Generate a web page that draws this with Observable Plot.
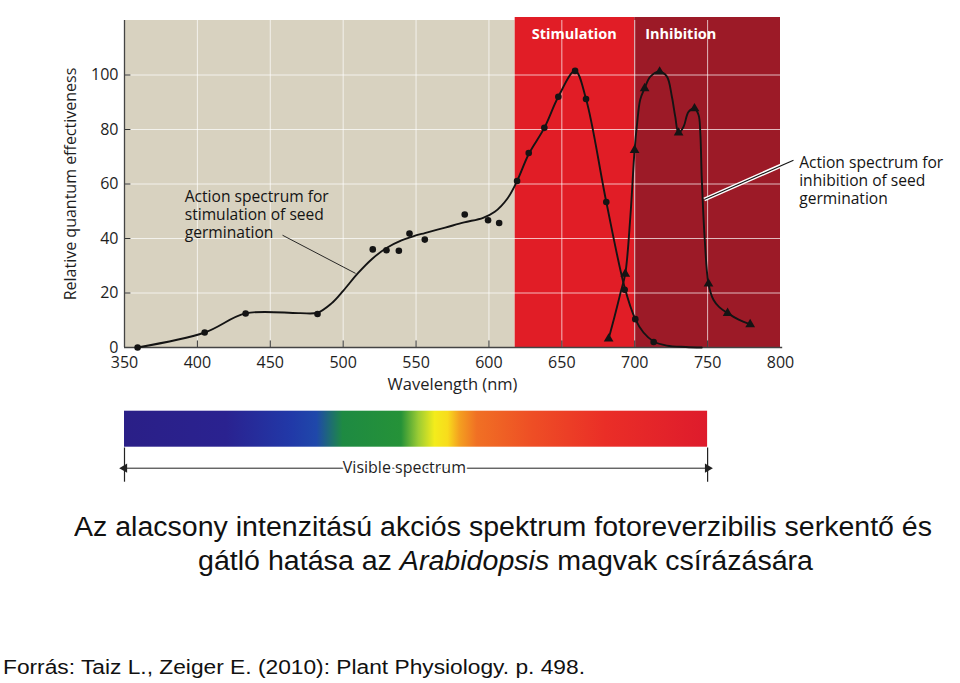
<!DOCTYPE html>
<html>
<head>
<meta charset="utf-8">
<script src="https://cdn.jsdelivr.net/npm/d3@7"></script>
<script src="https://cdn.jsdelivr.net/npm/@observablehq/plot@0.6"></script>
<style>
html, body { margin: 0; padding: 0; background: #fff; }
#page { position: relative; width: 960px; height: 683px; overflow: hidden; background: #fff; }
#chart { position: absolute; left: 0; top: 0; }
#strip { position: absolute; left: 0; top: 400px; }
.tline { position: absolute; white-space: nowrap; font-family: "Liberation Sans", Arial, sans-serif; color: #111; transform-origin: 0 0; line-height: 1; }
</style>
</head>
<body>
<div id="page">
  <div id="chart"></div>
  <div id="strip"></div>
  <div class="tline" id="t1" data-left="74" data-w="858" style="top:513.6px;font-size:27px;">Az alacsony intenzitású akciós spektrum fotoreverzibilis serkentő és</div>
  <div class="tline" id="t2" data-left="198" data-w="615" style="top:548.3px;font-size:27px;">gátló hatása az <i>Arabidopsis</i> magvak csírázására</div>
  <div class="tline" id="src" data-left="3" data-w="582" style="top:657.4px;font-size:20px;">Forrás: Taiz L., Zeiger E. (2010): Plant Physiology. p. 498.</div>
</div>
<script>
// ---------- data ----------
const xTicks = [350, 400, 450, 500, 550, 600, 650, 700, 750, 800];
const yTicks = [0, 20, 40, 60, 80, 100];
const gridX = [400, 450, 500, 550, 600, 650, 700, 750];
const gridY = [20, 40, 60, 80, 100];

const regionNames = ["background", "stimulation", "inhibition"];
const regionStart = [350, 618, 700];
const regionEnd = [618, 700, 800];
const regionLabels = ["Stimulation", "Inhibition"];

// measured points, stimulation of seed germination (circles)
const stimDotWl = [359.0, 405.0, 433.1, 482.4, 520.3, 529.7, 538.2, 545.5, 556.0, 583.4, 599.4, 607.0, 619.3, 627.3, 638.0, 647.6, 659.1, 666.6, 680.5, 693.1, 700.4, 713.0];
const stimDotVal = [0, 5.5, 12.5, 12.3, 36, 35.7, 35.5, 41.8, 39.6, 48.8, 46.7, 45.7, 61.1, 71.4, 80.6, 92, 101.5, 91.2, 53.4, 21.2, 10.4, 2.0];
// drawn (fitted) stimulation curve
const stimCurveWl = [359.0, 405.0, 433.1, 470, 482.4, 492, 500, 510, 520, 530, 540, 548, 556, 570, 583, 596, 604, 612.7, 619.3, 627.3, 638.0, 647.6, 659.1, 666.6, 680.5, 693.1, 700.4, 706, 713, 722, 735, 746];
const stimCurveVal = [0, 5.5, 12.5, 12.6, 12.8, 16.2, 20.8, 27.2, 32.6, 36.6, 39.3, 40.8, 42, 44, 45.9, 47.6, 49.8, 54.7, 61.1, 71, 80.6, 92, 101.5, 91.2, 53.4, 22, 10.4, 5.5, 2.2, 0.7, 0.2, 0];

// measured points, inhibition of seed germination (triangles)
const inhibDotWl = [682.1, 693.5, 699.9, 706.8, 717.1, 730.1, 741.0, 750.6, 763.7, 779.2];
const inhibDotVal = [3.2, 27, 72.4, 95.1, 101.2, 78.8, 87.7, 23.4, 12.6, 8.5];
// drawn inhibition curve
const inhibCurveWl = [682.1, 686, 690, 693.5, 697, 699.9, 701.6, 703.8, 706.8, 710.7, 717.1, 722.1, 725.5, 727.8, 730.1, 733.5, 736.9, 741.0, 743.8, 745.0, 746.0, 748.0, 750.6, 754, 758, 763.7, 771, 779.2];
const inhibCurveVal = [3.2, 11, 19.5, 27, 48, 72.4, 82, 91, 95.1, 99.4, 101.2, 99.4, 92, 84.7, 78.8, 81, 86.5, 87.7, 85.3, 78.6, 62, 40, 23.4, 17.5, 14.8, 12.6, 10.3, 8.5];

const stimNote = "Action spectrum for\nstimulation of seed\ngermination";
const inhibNote = "Action spectrum for\ninhibition of seed\ngermination";
const xLabel = "Wavelength (nm)";
const yLabel = "Relative quantum effectiveness";
const spectrumLabel = "Visible spectrum";
const visibleRange = [350, 750];
const spectrumStopWl = [350, 420, 465, 482, 492, 500, 540, 552, 563, 572, 580, 592, 630, 680, 750];
const spectrumStopColor = ["#2a1f87", "#2a2290", "#2139a8", "#1f48aa", "#1e6e70", "#1e8a42", "#259238", "#9ccc34", "#f3ec1c", "#f8dc1c", "#f4a020", "#f07024", "#ee4e25", "#ea2e27", "#de1b2c"];

// ---------- build tables ----------
const regions = regionNames.map((name, i) => ({name, start: regionStart[i], end: regionEnd[i]}));
const stimDots = stimDotWl.map((wl, i) => ({wl, v: stimDotVal[i]}));
const stimCurve = stimCurveWl.map((wl, i) => ({wl, v: stimCurveVal[i]}));
const inhibDots = inhibDotWl.map((wl, i) => ({wl, v: inhibDotVal[i]}));
const inhibCurve = inhibCurveWl.map((wl, i) => ({wl, v: inhibCurveVal[i]}));

const regionColor = {background: "#d8d2c0", stimulation: "#e11d26", inhibition: "#9c1a27"};
const ink = "#141414";
const font = "'Open Sans', 'Noto Sans', sans-serif";

const chart = Plot.plot({
  width: 960,
  height: 400,
  marginLeft: 124,
  marginRight: 180,
  marginTop: 20,
  marginBottom: 53,
  style: {fontFamily: font, fontSize: "16px", color: "#1e1e1e", background: "transparent", overflow: "visible"},
  x: {domain: [350, 800], ticks: xTicks, tickSize: 0, tickPadding: 9, label: null},
  y: {domain: [0, 120], ticks: yTicks, tickSize: 0, tickPadding: 6, label: null},
  color: {type: "identity"},
  marks: [
    Plot.rect(regions, {x1: "start", x2: "end", y1: 0, y2: d => d.name === "background" ? 120 : 121.1, fill: d => regionColor[d.name]}),
    Plot.ruleX(gridX, {y1: 0, y2: 120, stroke: "white", strokeOpacity: 0.7, strokeWidth: 1}),
    Plot.ruleY(gridY, {x1: 350, x2: 800, stroke: "white", strokeOpacity: 0.7, strokeWidth: 1}),
    Plot.ruleX(xTicks.slice(1, -1), {y1: 0, y2: 2.4, stroke: "#333", strokeWidth: 1}),
    Plot.ruleY(yTicks.slice(1), {x1: 350, x2: 354.4, stroke: "#333", strokeWidth: 1}),
    Plot.ruleX([350], {y1: 0, y2: 120, stroke: "#444", strokeWidth: 1.3}),
    Plot.ruleY([0], {x1: 350, x2: 801.5, stroke: "#444", strokeWidth: 1.3}),
    Plot.line(stimCurve, {x: "wl", y: "v", curve: "catmull-rom", stroke: ink, strokeWidth: 1.9}),
    Plot.line(inhibCurve, {x: "wl", y: "v", curve: "catmull-rom", stroke: ink, strokeWidth: 1.9}),
    Plot.dot(stimDots, {x: "wl", y: "v", r: 3.3, fill: ink, stroke: "none"}),
    Plot.dot(inhibDots, {x: "wl", y: "v", r: 3.6, symbol: "triangle", fill: ink, stroke: "none"}),
    Plot.link([stimNote], {x1: 458.4, y1: 41.2, x2: 508.5, y2: 27.2, stroke: ink, strokeWidth: 0.9}),
    Plot.link([inhibNote], {x1: 808.9, y1: 68.75, x2: 747.7, y2: 54.3, stroke: "white", strokeWidth: 4}),
    Plot.link([inhibNote], {x1: 808.9, y1: 68.75, x2: 747.7, y2: 54.3, stroke: ink, strokeWidth: 1.1}),
    Plot.text([stimNote], {x: 391.3, y: 48.8, text: d => d, textAnchor: "start", lineHeight: 1.16, fontSize: 15.6, fill: "#141414"}),
    Plot.text([inhibNote], {x: 812.8, y: 61.4, text: d => d, textAnchor: "start", lineHeight: 1.16, fontSize: 15.6, fill: "#141414"}),
    Plot.text([regionLabels[0]], {x: 658.5, y: 114.9, text: d => d, fill: "white", fontWeight: "bold", fontSize: 14.5}),
    Plot.text([regionLabels[1]], {x: 731.6, y: 114.9, text: d => d, fill: "white", fontWeight: "bold", fontSize: 14.5}),
    Plot.text([xLabel], {frameAnchor: "bottom", dy: 42, text: d => d, fontSize: 16.5, fill: "#1e1e1e"}),
    Plot.text([yLabel], {frameAnchor: "left", textAnchor: "middle", dx: -54, rotate: -90, text: d => d, fontSize: 16, fill: "#1e1e1e"})
  ]
});
document.getElementById("chart").append(chart);

const strip = Plot.plot({
  width: 960,
  height: 90,
  marginLeft: 124,
  marginRight: 180,
  marginTop: 0,
  marginBottom: 0,
  style: {fontFamily: font, fontSize: "16px", background: "transparent", overflow: "visible"},
  x: {domain: [350, 800], axis: null},
  y: {domain: [0, 90], range: [0, 90], axis: null},
  marks: [
    Plot.rect([visibleRange], {x1: d => d[0], x2: d => d[1], y1: 10.7, y2: 46.7, fill: "url(#spectrumGrad)"}),
    Plot.ruleX(visibleRange, {y1: 47.5, y2: 81.7, stroke: "#222", strokeWidth: 1.2}),
    Plot.ruleY([67.7], {x1: visibleRange[0], x2: visibleRange[1], stroke: "#222", strokeWidth: 1}),
    Plot.dot(visibleRange, {x: d => d, y: 67.7, symbol: "triangle", r: 3.4, rotate: d => d === visibleRange[0] ? -90 : 90, fill: "#222", stroke: "none"}),
    Plot.text([spectrumLabel], {x: 542, y: 67.7, text: d => d, fontSize: 16, fill: "#1e1e1e", stroke: "white", strokeWidth: 4, paintOrder: "stroke"})
  ]
});
document.getElementById("strip").append(strip);

// gradient definition for the spectrum bar
const defs = d3.select(strip).insert("defs", ":first-child");
const grad = defs.append("linearGradient").attr("id", "spectrumGrad").attr("x1", "0").attr("x2", "1").attr("y1", "0").attr("y2", "0");
spectrumStopWl.forEach((wl, i) => {
  grad.append("stop")
    .attr("offset", ((wl - visibleRange[0]) / (visibleRange[1] - visibleRange[0]) * 100) + "%")
    .attr("stop-color", spectrumStopColor[i]);
});

// fit title / caption lines to the widths seen in the reference
document.querySelectorAll(".tline").forEach(el => {
  el.style.left = el.dataset.left + "px";
  const w = el.getBoundingClientRect().width;
  const target = +el.dataset.w;
  el.style.transform = `scaleX(${target / w})`;
});
</script>
</body>
</html>
